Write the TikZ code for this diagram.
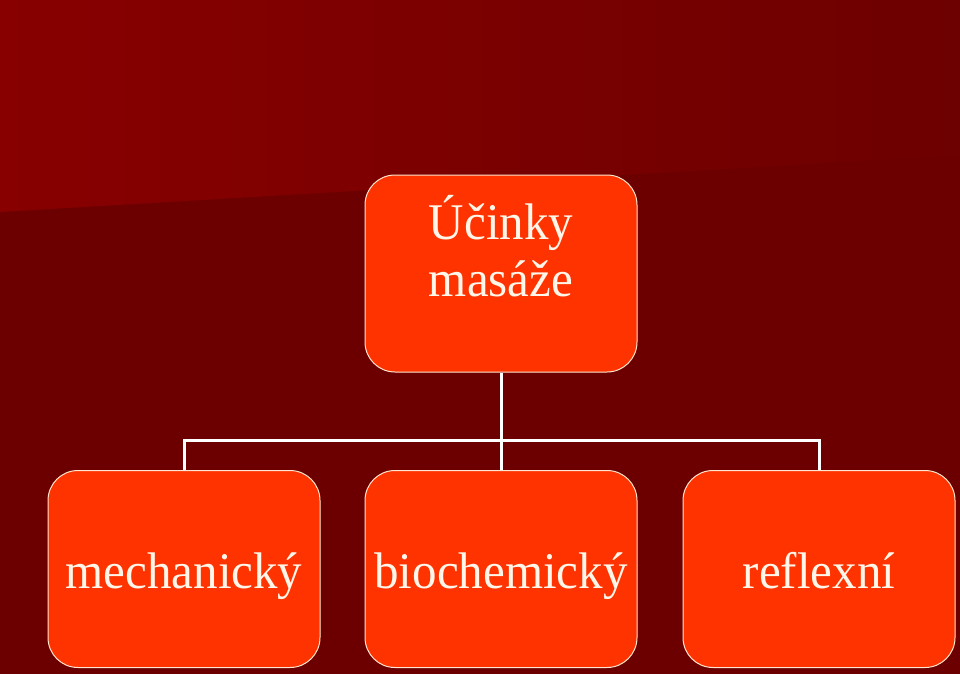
\documentclass[tikz,border=0pt]{standalone}
\usepackage{fontspec}
\setmainfont{Liberation Serif}
\begin{document}
\begin{tikzpicture}[x=1pt,y=-1pt,
  box/.style={draw=boxedge,line width=1pt,fill=boxfill,rounded corners=30pt,minimum width=272pt,minimum height=197pt,inner sep=0pt},
  lbl/.style={text=txt,font=\fontsize{49}{52}\selectfont,anchor=base,yscale=1.05},
  conn/.style={draw=white,line width=3pt}]
\definecolor{bgdark}{HTML}{6C0000}
\definecolor{bgl}{HTML}{880000}
\definecolor{bgr}{HTML}{6D0000}
\definecolor{boxfill}{HTML}{FF3300}
\definecolor{boxedge}{HTML}{FFE6D0}
\definecolor{txt}{HTML}{FFF6EA}
\useasboundingbox (0,0) rectangle (960,674);
\fill[bgdark] (0,0) rectangle (960,674);
\shade[left color=bgl,right color=bgr] (0,0) -- (960,0) -- (960,155) -- (0,212) -- cycle;
\node[box] (top) at (501,273.5) {};
\node[box] (mech) at (184,569) {};
\node[box] (bio) at (501,569) {};
\node[box] (refl) at (819,569) {};
\coordinate (hub) at (501,440);
\draw[conn] (top.south) -- (hub);
\draw[conn] (mech.north) |- (hub) -| (refl.north);
\draw[conn] (hub) -- (bio.north);
\node[lbl] (t1) at (501,239) {Účinky};
\node[lbl] (t2) at (501,296) {masáže};
\node[lbl] (l1) at (184,588) {mechanický};
\node[lbl] (l2) at (501,588) {biochemický};
\node[lbl] (l3) at (819,588) {reflexní};
\end{tikzpicture}
\end{document}
